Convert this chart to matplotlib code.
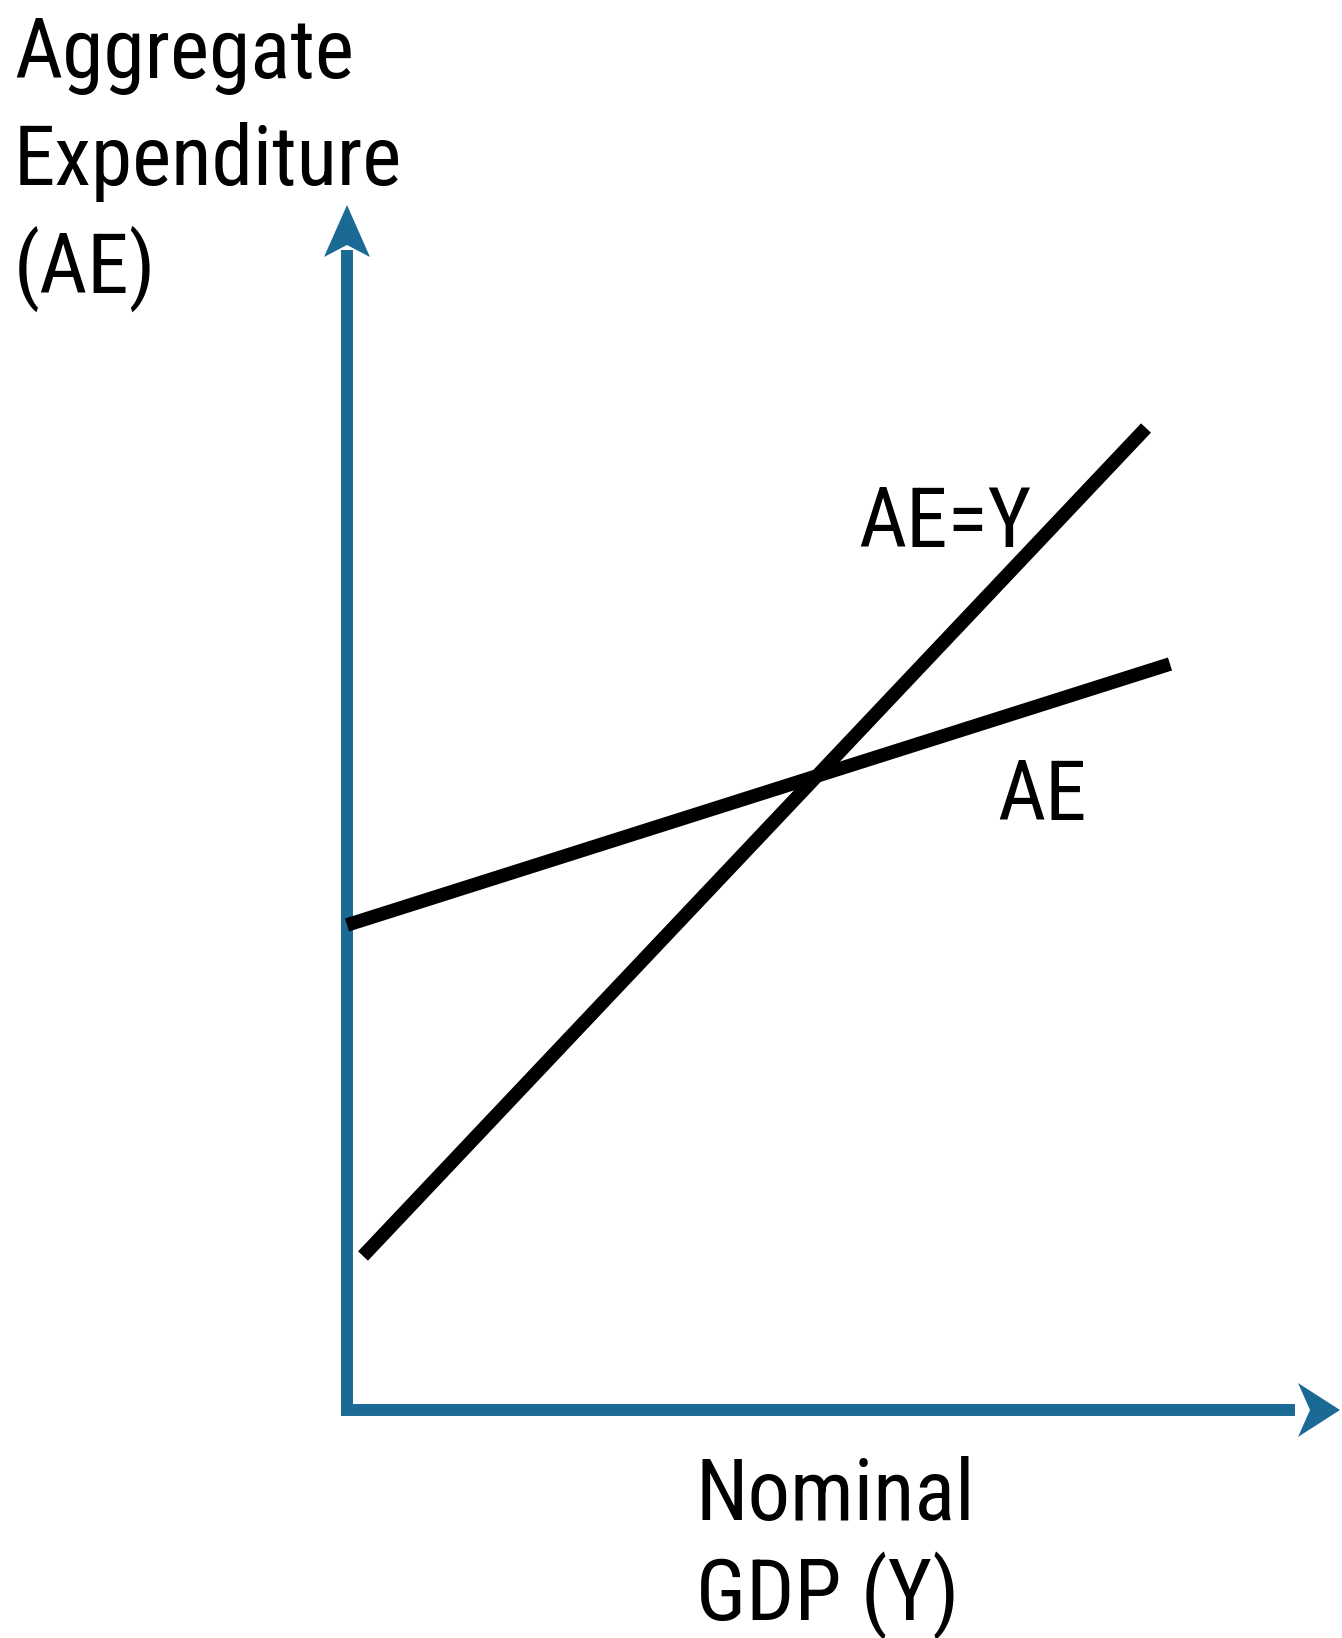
import matplotlib
matplotlib.use("Agg")
import matplotlib.pyplot as plt
from matplotlib.patches import Polygon

# ---- data (abstract units: 1 unit = 100 px in the reference) ----
ae_y_x = [0.16, 7.99]      # AE = Y line
ae_y_y = [1.54, 9.82]
ae_x = [0.00, 8.23]        # AE line
ae_y = [4.85, 7.46]

x_axis_end = 9.93
y_axis_end = 12.05

ylabel_lines = ["Aggregate", "Expenditure", "(AE)"]
xlabel_lines = ["Nominal", "GDP (Y)"]
line_labels = ["AE=Y", "AE"]

AXIS_COLOR = "#1B6A96"
FONT = ["Roboto Condensed", "Liberation Sans Narrow", "DejaVu Sans"]

fig = plt.figure(figsize=(13.42, 16.38), dpi=100)
ax = fig.add_axes([0, 0, 1, 1])
ax.set_xlim(-3.47, 9.95)
ax.set_ylim(-2.28, 14.10)
ax.axis("off")

# axes (L-shape)
ax.plot([0, 0, x_axis_end - 0.45], [y_axis_end - 0.45, 0, 0], color=AXIS_COLOR,
        lw=8.6, solid_joinstyle="miter", solid_capstyle="butt", zorder=2)
# arrow heads
ax.add_patch(Polygon([(0, y_axis_end), (-0.23, y_axis_end - 0.52), (0, y_axis_end - 0.40),
                      (0.23, y_axis_end - 0.52)], closed=True, color=AXIS_COLOR, lw=0, zorder=3))
ax.add_patch(Polygon([(x_axis_end, 0), (x_axis_end - 0.42, 0.27), (x_axis_end - 0.30, 0),
                      (x_axis_end - 0.42, -0.27)], closed=True, color=AXIS_COLOR, lw=0, zorder=3))

# curves
ax.plot(ae_y_x, ae_y_y, color="black", lw=9.8, solid_capstyle="butt", zorder=4)
ax.plot(ae_x, ae_y, color="black", lw=9.8, solid_capstyle="butt", zorder=4)

kw = dict(family=FONT, stretch="condensed", weight="normal", ha="left", va="baseline")
# labels
for txt, yb in zip(ylabel_lines, [13.32, 12.25, 11.17]):
    ax.text(-3.33, yb, txt, fontsize=60, **kw)
for txt, yb in zip(xlabel_lines, [-1.10, -2.10]):
    ax.text(3.49, yb, txt, fontsize=61, **kw)
ax.text(5.11, 8.63, line_labels[0], fontsize=60, **kw)
ax.text(6.50, 5.90, line_labels[1], fontsize=60, **kw)

fig.savefig("out.png", dpi=100)
